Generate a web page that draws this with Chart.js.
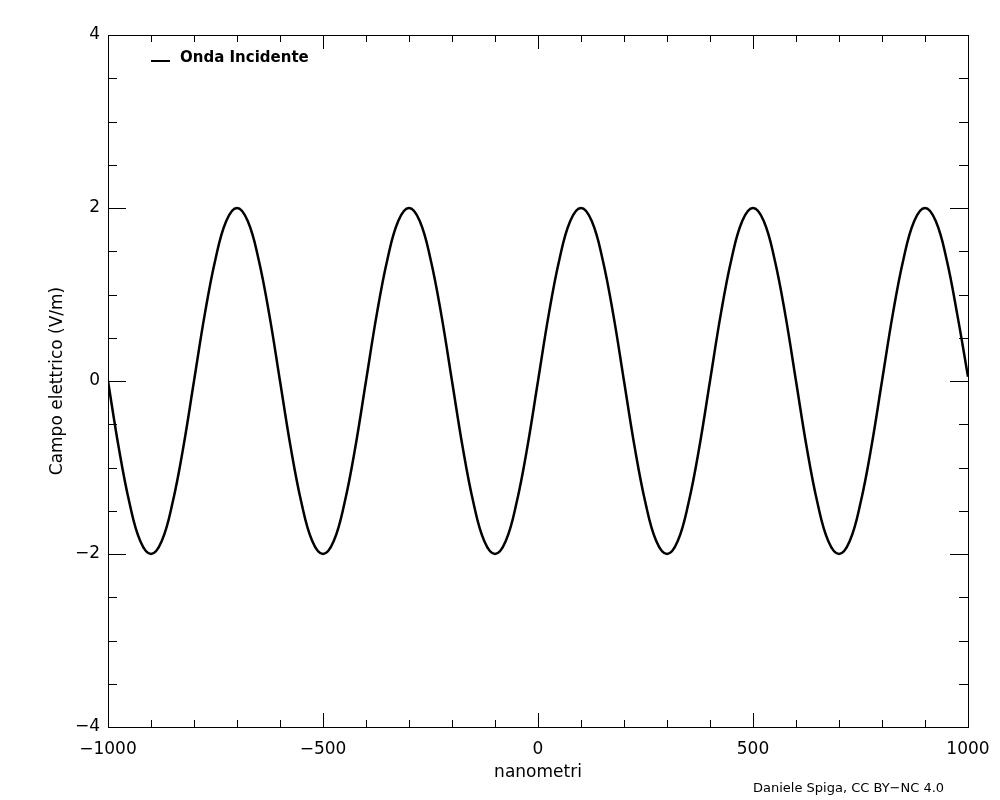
<!DOCTYPE html>
<html>
<head>
<meta charset="utf-8">
<script src="https://cdn.jsdelivr.net/npm/chart.js@4.4.1/dist/chart.umd.min.js"></script>
<style>
  html, body { margin: 0; padding: 0; background: #fff; }
  #wrap { width: 1000px; height: 800px; position: relative; }
</style>
</head>
<body>
<div id="wrap"><canvas id="waveChart" width="1000" height="800"></canvas></div>
<script>
const nanometri = [
  -1000, -975, -950, -925, -900, -875, -850, -825, -800, -775, -750, -725, -700, -675, -650, -625,
  -600, -575, -550, -525, -500, -475, -450, -425, -400, -375, -350, -325, -300, -275, -250, -225,
  -200, -175, -150, -125, -100, -75, -50, -25, 0, 25, 50, 75, 100, 125, 150, 175,
  200, 225, 250, 275, 300, 325, 350, 375, 400, 425, 450, 475, 500, 525, 550, 575,
  600, 625, 650, 675, 700, 725, 750, 775, 800, 825, 850, 875, 900, 925, 950, 975,
  1000
];
const campo = [
  0, -0.77, -1.41, -1.85, -2, -1.85, -1.41, -0.77, 0, 0.77, 1.41, 1.85, 2, 1.85, 1.41, 0.77,
  0, -0.77, -1.41, -1.85, -2, -1.85, -1.41, -0.77, 0, 0.77, 1.41, 1.85, 2, 1.85, 1.41, 0.77,
  0, -0.77, -1.41, -1.85, -2, -1.85, -1.41, -0.77, 0, 0.77, 1.41, 1.85, 2, 1.85, 1.41, 0.77,
  0, -0.77, -1.41, -1.85, -2, -1.85, -1.41, -0.77, 0, 0.77, 1.41, 1.85, 2, 1.85, 1.41, 0.77,
  0, -0.77, -1.41, -1.85, -2, -1.85, -1.41, -0.77, 0, 0.77, 1.41, 1.85, 2, 1.85, 1.41, 0.77,
  0.05
];
const xMajor = [-1000, -500, 0, 500, 1000];
const xMinor = [-900, -800, -700, -600, -400, -300, -200, -100, 100, 200, 300, 400, 600, 700, 800, 900];
const yMajor = [-4, -2, 0, 2, 4];
const yMinor = [-3.5, -3, -2.5, -1.5, -1, -0.5, 0.5, 1, 1.5, 2.5, 3, 3.5];

const FONT = '"DejaVu Sans", sans-serif';
const minus = v => String(v).replace('-', '\u2212');

// frame with inward ticks on all four sides, plus legend and credit
const frame = {
  id: 'frame',
  afterDraw(chart) {
    const { ctx, chartArea: a, scales: { x, y } } = chart;
    ctx.save();
    ctx.strokeStyle = '#000';
    ctx.lineWidth = 1;
    ctx.strokeRect(a.left + 0.5, a.top + 0.5, a.right - a.left, a.bottom - a.top);
    ctx.beginPath();
    const xt = (v, len) => {
      const px = Math.round(x.getPixelForValue(v)) + 0.5;
      ctx.moveTo(px, a.bottom); ctx.lineTo(px, a.bottom - len);
      ctx.moveTo(px, a.top); ctx.lineTo(px, a.top + len);
    };
    const yt = (v, len) => {
      const py = Math.round(y.getPixelForValue(v)) + 0.5;
      ctx.moveTo(a.left, py); ctx.lineTo(a.left + len, py);
      ctx.moveTo(a.right, py); ctx.lineTo(a.right - len, py);
    };
    xMajor.forEach(v => xt(v, 14));
    xMinor.forEach(v => xt(v, 7));
    yMajor.forEach(v => yt(v, 18));
    yMinor.forEach(v => yt(v, 9));
    ctx.stroke();

    // legend
    const ds = chart.data.datasets[0];
    ctx.lineWidth = 2;
    ctx.beginPath();
    ctx.moveTo(a.left + 43, a.top + 26);
    ctx.lineTo(a.left + 62, a.top + 26);
    ctx.stroke();
    ctx.fillStyle = '#000';
    ctx.font = 'bold 15px "DejaVu Sans", sans-serif';
    ctx.textBaseline = 'alphabetic';
    ctx.fillText(ds.label, a.left + 72, a.top + 27);

    // credit
    ctx.font = '13px ' + FONT;
    ctx.fillText('Daniele Spiga, CC BY\u2212NC 4.0', 753, 792);
    ctx.restore();
  }
};

const ctx = document.getElementById('waveChart').getContext('2d');
new Chart(ctx, {
  type: 'line',
  data: {
    datasets: [{
      label: 'Onda Incidente',
      data: nanometri.map((v, i) => ({ x: v, y: campo[i] })),
      borderColor: '#000',
      borderWidth: 2.5,
      pointRadius: 0,
      tension: 0.4,
      fill: false
    }]
  },
  options: {
    responsive: false,
    animation: false,
    layout: { padding: { top: 35, right: 32, left: 0, bottom: 0 } },
    plugins: { legend: { display: false }, tooltip: { enabled: false } },
    scales: {
      x: {
        type: 'linear',
        min: -1000, max: 1000,
        grid: { display: false, drawTicks: false },
        border: { display: false },
        ticks: {
          stepSize: 500, padding: 12, color: '#000',
          font: { family: FONT, size: 17 },
          callback: minus
        },
        title: {
          display: true, text: 'nanometri', color: '#000',
          font: { family: FONT, size: 17 }, padding: { top: 2, bottom: 17 }
        },
        afterFit: s => { s.height = 73; s.paddingLeft = 0; s.paddingRight = 0; }
      },
      y: {
        min: -4, max: 4,
        grid: { display: false, drawTicks: false },
        border: { display: false },
        ticks: {
          stepSize: 2, padding: 8, color: '#000',
          font: { family: FONT, size: 17 },
          callback: minus
        },
        title: {
          display: true, text: 'Campo elettrico (V/m)', color: '#000',
          font: { family: FONT, size: 17 }, padding: { top: 47, bottom: 0 }
        },
        afterFit: s => { s.width = 108; s.paddingTop = 0; s.paddingBottom = 0; }
      }
    }
  },
  plugins: [frame]
});
</script>
</body>
</html>
